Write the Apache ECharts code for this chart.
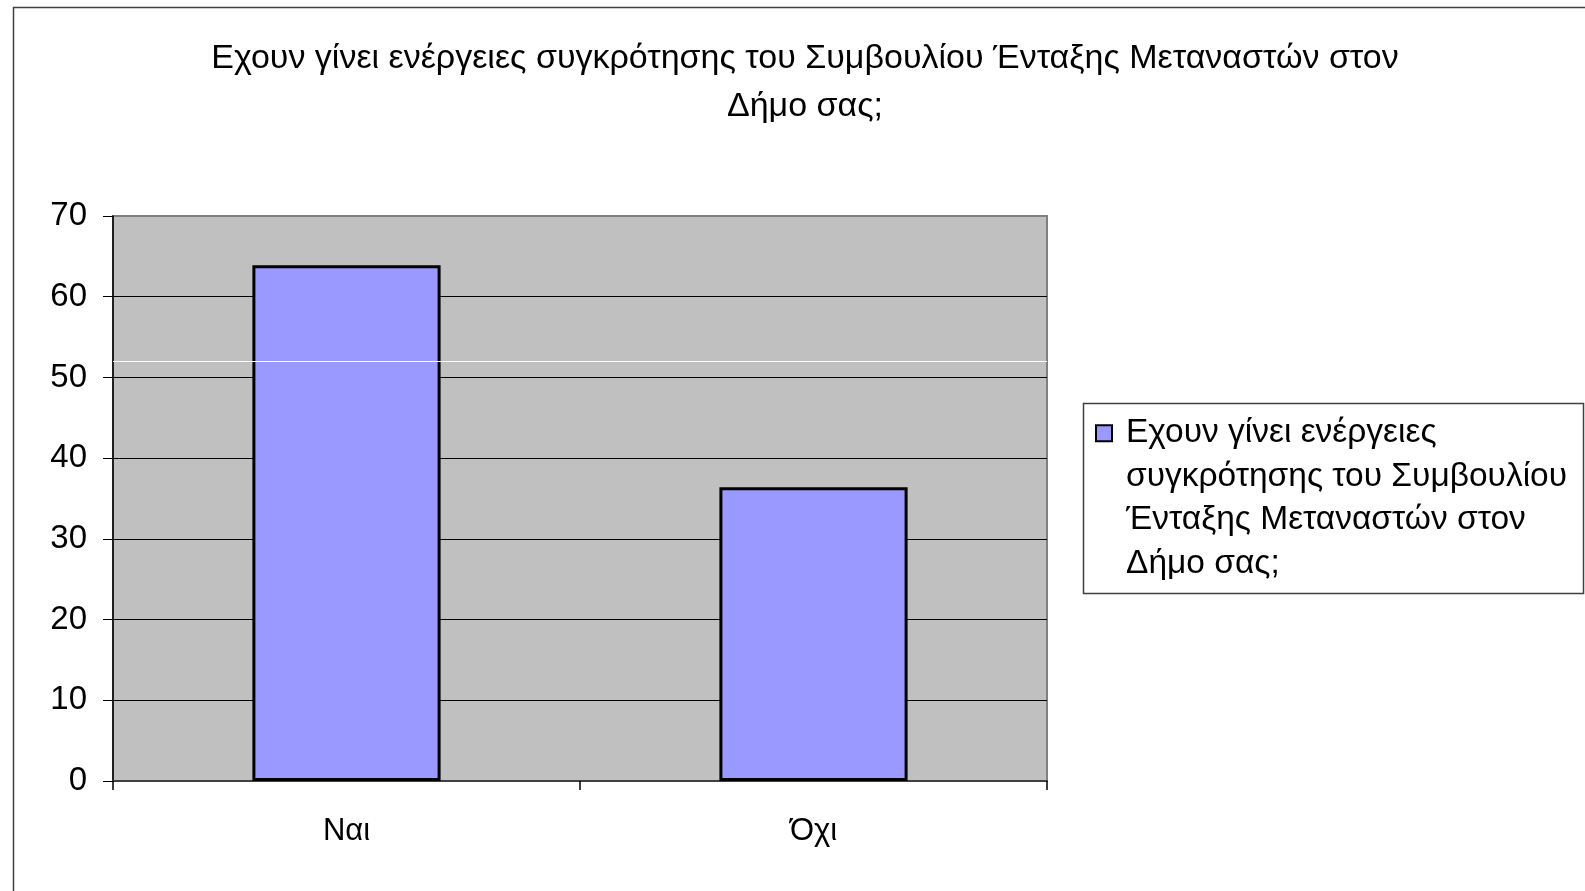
<!DOCTYPE html>
<html>
<head>
<meta charset="utf-8">
<script src="https://cdn.jsdelivr.net/npm/echarts@6/dist/echarts.min.js"></script>
<style>
html,body{margin:0;padding:0;background:#fff;}
#chart{width:1585px;height:891px;}
</style>
</head>
<body>
<div id="chart"></div>
<script>
const titleLines = ['Εχουν γίνει ενέργειες συγκρότησης του Συμβουλίου Ένταξης Μεταναστών στον', 'Δήμο σας;'];
const categories = ['Ναι', 'Όχι'];
const seriesName = 'Εχουν γίνει ενέργειες συγκρότησης του Συμβουλίου Ένταξης Μεταναστών στον Δήμο σας;';
const legendLines = ['Εχουν γίνει ενέργειες', 'συγκρότησης του Συμβουλίου', 'Ένταξης Μεταναστών στον', 'Δήμο σας;'];
const values = [63.9, 36.4];
const yMin = 0, yMax = 70, yInterval = 10;
const artifactLineValue = [52];

const FONT = '"Liberation Sans", Arial, sans-serif';
const chart = echarts.init(document.getElementById('chart'));
const splitColors = ['#000','#000','#000','#000','#000','#000','#000','#808080'];

const LEG_LH = 43.5;
// pad above with blank lines so that the first line sits level with the icon
const legendText = ['{t| }', '{t| }', '{t| }'].concat(legendLines.map(l => '{t|' + l + '}')).join('\n');

chart.setOption({
  animation: false,
  backgroundColor: '#ffffff',
  textStyle: { fontFamily: FONT },
  title: {
    text: titleLines.join('\n'),
    left: 800,
    top: 30,
    textAlign: 'center',
    textStyle: { fontFamily: FONT, fontSize: 34, fontWeight: 'normal', color: '#000', lineHeight: 48 }
  },
  graphic: [
    { type: 'rect', silent: true, z: -10, shape: { x: 13.5, y: 7.5, width: 1700, height: 1000 },
      style: { fill: 'none', stroke: '#404040', lineWidth: 1.5 } },
    { type: 'rect', silent: true, z: -5, shape: { x: 1083.5, y: 403.5, width: 500, height: 190 },
      style: { fill: '#fff', stroke: '#404040', lineWidth: 1.5 } }
  ],
  legend: {
    show: true,
    left: 1095,
    top: 281,
    padding: 0,
    itemWidth: 16,
    itemHeight: 16,
    icon: 'rect',
    data: [seriesName],
    formatter: () => legendText,
    textStyle: {
      fontFamily: FONT, fontSize: 33.5, color: '#000', lineHeight: LEG_LH,
      rich: { t: { fontFamily: FONT, fontSize: 33.5, color: '#000', lineHeight: LEG_LH, padding: [0, 0, 0, 9] } }
    },
    itemStyle: { borderColor: '#000', borderWidth: 2 }
  },
  grid: {
    left: 113, top: 216, width: 934, height: 565,
    show: true, backgroundColor: '#c0c0c0', borderColor: '#808080', borderWidth: 2,
    containLabel: false
  },
  xAxis: {
    type: 'category',
    data: categories,
    axisLine: { show: true, lineStyle: { color: '#404040', width: 2 } },
    axisTick: { show: true, alignWithLabel: false, length: 9, lineStyle: { color: '#000', width: 1.5 } },
    axisLabel: { fontFamily: FONT, fontSize: 31, color: '#000', margin: 35 },
    splitLine: { show: false }
  },
  yAxis: {
    type: 'value',
    min: yMin, max: yMax, interval: yInterval,
    axisLine: { show: true, lineStyle: { color: '#000', width: 1.5 } },
    axisTick: { show: true, length: 10, lineStyle: { color: '#000', width: 1 } },
    axisLabel: { fontFamily: FONT, fontSize: 33, color: '#000', margin: 26 },
    splitLine: { show: true, lineStyle: { color: splitColors, width: 1 } }
  },
  series: [
    {
      name: seriesName,
      type: 'bar',
      z: 3,
      data: values,
      barWidth: '40.3%',
      itemStyle: { color: '#9999ff', borderColor: '#000', borderWidth: 3 }
    },
    {
      name: 'artifact',
      type: 'line',
      z: 1,
      data: [],
      silent: true,
      markLine: {
        silent: true,
        symbol: 'none',
        label: { show: false },
        lineStyle: { color: '#ffffff', width: 1, type: 'solid' },
        data: artifactLineValue.map(v => ({ yAxis: v }))
      }
    }
  ]
});
</script>
</body>
</html>
